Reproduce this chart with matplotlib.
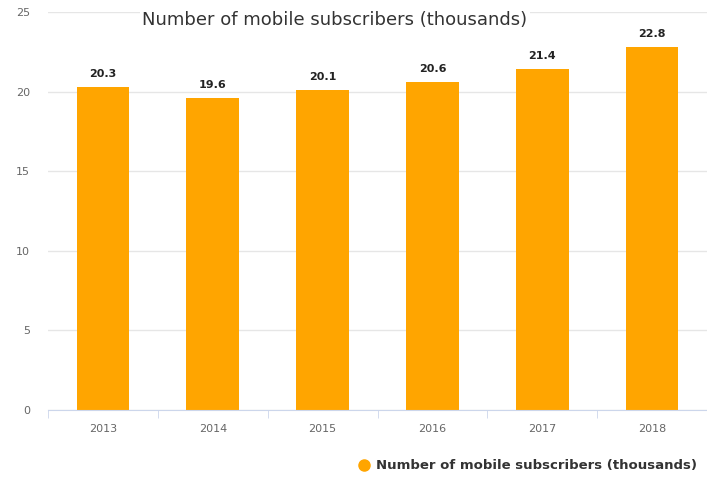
import matplotlib
matplotlib.use("Agg")
import matplotlib.pyplot as plt
from matplotlib.lines import Line2D

years = ["2013", "2014", "2015", "2016", "2017", "2018"]
values = [20.3, 19.6, 20.1, 20.6, 21.4, 22.8]
yticks = [0, 5, 10, 15, 20, 25]
title = "Number of mobile subscribers (thousands)"
series_name = "Number of mobile subscribers (thousands)"

W, H = 707, 479
fig = plt.figure(figsize=(W / 100, H / 100), dpi=100)
ax = fig.add_axes([48 / W, 1 - 410 / H, (707 - 48) / W, (410 - 12) / H])

x = list(range(len(years)))
bars = ax.bar(x, values, width=0.48, color="#FFA500", zorder=3)
for xi, v in zip(x, values):
    ax.text(xi, v + 0.5, f"{v}", ha="center", va="bottom", fontsize=8,
            fontweight="bold", color="#222222", zorder=4)

ax.set_xlim(-0.5, 5.44)
ax.set_ylim(0, 25)
ax.set_yticks(yticks)
ax.set_yticklabels([str(t) for t in yticks])
ax.set_xticks(x)
ax.set_xticklabels(years)
ax.set_xticks([i + 0.5 for i in range(-1, 6)], minor=True)
ax.tick_params(axis="x", which="major", length=0, pad=10, labelsize=8, labelcolor="#666666")
ax.tick_params(axis="x", which="minor", length=6, color="#ccd6eb", direction="out")
ax.tick_params(axis="y", length=0, pad=13, labelsize=8, labelcolor="#666666")
for lab in ax.get_yticklabels():
    lab.set_horizontalalignment("right")

ax.grid(axis="y", color="#e6e6e6", linewidth=1, zorder=0)
for s in ["top", "right", "left"]:
    ax.spines[s].set_visible(False)
ax.spines["bottom"].set_color("#ccd6eb")
ax.spines["bottom"].set_zorder(5)

fig.text(335 / W, 1 - 20 / H, title, ha="center", va="center", fontsize=13,
         color="#333333", bbox=dict(facecolor="white", edgecolor="none", pad=2))

handle = Line2D([], [], marker="o", linestyle="none", markersize=8,
                markerfacecolor="#FFA500", markeredgecolor="#FFA500")
leg = fig.legend([handle], [series_name], loc="center right",
                 bbox_to_anchor=(702 / W, 1 - 466 / H), frameon=False,
                 prop=dict(size=9.5, weight="bold"), handletextpad=0.4,
                 borderaxespad=0, handlelength=1)
for t in leg.get_texts():
    t.set_color("#333333")

fig.savefig("out.png", dpi=100)
